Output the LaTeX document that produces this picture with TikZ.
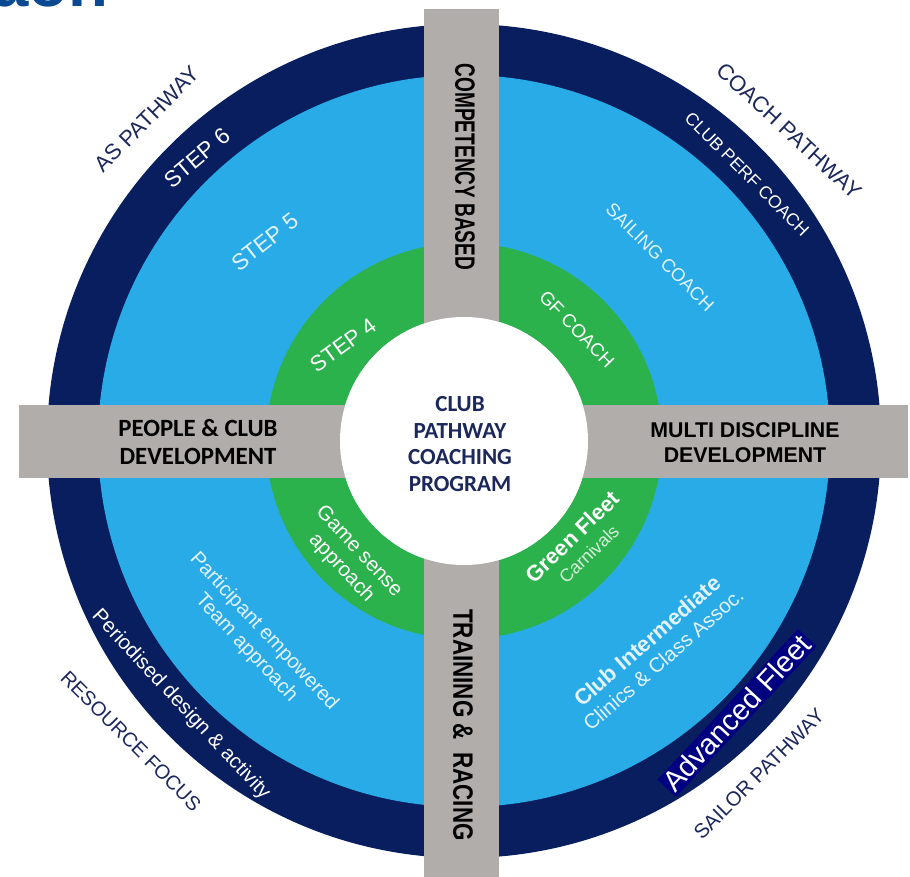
\documentclass[tikz,border=0pt]{standalone}
\usepackage{fontspec}
\setmainfont{Liberation Sans}
\newfontfamily\calibfont{Carlito}
\definecolor{navyring}{RGB}{8,30,94}
\definecolor{skyring}{RGB}{41,171,231}
\definecolor{greenring}{RGB}{44,178,76}
\definecolor{bargray}{RGB}{177,173,171}
\definecolor{labelnavy}{RGB}{28,40,92}
\definecolor{paletext}{RGB}{226,243,253}
\definecolor{palegreen}{RGB}{214,240,218}
\definecolor{advnavy}{RGB}{0,0,128}
\definecolor{titleblue}{RGB}{11,74,146}
\tikzset{
  ringtext/.style={inner sep=0pt,align=center},
  outerlbl/.style={ringtext,text=labelnavy,font=\fontsize{15.5}{18}\selectfont},
  barlbl/.style={inner sep=0pt,align=center,text=black}
}
\begin{document}
\begin{tikzpicture}[x=0.75pt,y=0.75pt]
  \useasboundingbox (-464,-436) rectangle (446,441);
  % cut-off title
  \begin{scope}
    \clip (-464,-436) rectangle (446,441);
    \node[anchor=base west,inner sep=0pt,text=titleblue,font=\bfseries\fontsize{49}{50}\selectfont] (ttl) at (-472,434) {aon};
  \end{scope}
  % rings
  \foreach \r/\c in {417/navyring,366/skyring,198/greenring,124/white}
    \fill[\c] (0,0) circle (\r);
  % cross bars
  \fill[bargray] (-40,432) rectangle (35,-440);
  \fill[bargray] (-445,36) rectangle (444,-37);
  \fill[white] (0,0) circle (124);

  \node[barlbl,rotate=-90,font=\bfseries\fontsize{21}{24}\selectfont] (comp) at (1,274) {\scalebox{0.68}[1]{COMPETENCY BASED}};
  \node[barlbl,rotate=-90,font=\bfseries\fontsize{21}{24}\selectfont] (train) at (-1,-284) {\scalebox{0.8}[1]{TRAINING \& \ RACING}};
  \node[barlbl,font=\calibfont\bfseries\fontsize{18.6}{21.5}\selectfont] (people) at (-266,-1) {PEOPLE \& CLUB\\DEVELOPMENT};
  \node[barlbl,font=\bfseries\fontsize{16}{19}\selectfont] (multi) at (281,-1.5) {MULTI DISCIPLINE\\DEVELOPMENT};
  \node[barlbl,text=labelnavy,font=\calibfont\bfseries\fontsize{17.3}{20.2}\selectfont] (hub) at (-4,-3) {CLUB\\PATHWAY\\COACHING\\PROGRAM};

  % top left
  \node[outerlbl,rotate=45,font=\fontsize{16.5}{19}\selectfont] (aspath) at (-317,322) {AS PATHWAY};
  \node[ringtext,rotate=40,text=white,font=\fontsize{17}{20}\selectfont] (step6) at (-267,283) {STEP 6};
  \node[ringtext,rotate=38,text=paletext,font=\fontsize{17}{20}\selectfont] (step5) at (-199,199) {STEP 5};
  \node[ringtext,rotate=36,text=white,font=\fontsize{16.5}{20}\selectfont] (step4) at (-121,96) {STEP 4};
  % top right
  \node[outerlbl,rotate=-43,font=\fontsize{16.5}{19}\selectfont] (coachpath) at (325,310) {COACH PATHWAY};
  \node[ringtext,rotate=-45,text=white,font=\fontsize{13.2}{16}\selectfont] (perf) at (283,267) {CLUB PERF COACH};
  \node[ringtext,rotate=-45,text=paletext,font=\fontsize{13.8}{16}\selectfont] (sailcoach) at (196,184) {SAILING COACH};
  \node[ringtext,rotate=-46,text=white,font=\fontsize{14}{16}\selectfont] (gfcoach) at (113,112) {GF COACH};
  % bottom left
  \node[ringtext,rotate=-47,text=white,font=\fontsize{15.4}{18}\selectfont] (gamesense) at (-114,-119) {Game sense\\approach};
  \node[ringtext,rotate=-47,text=paletext,font=\fontsize{15.2}{18}\selectfont] (partic) at (-209,-199) {Participant empowered\\Team approach};
  \node[ringtext,rotate=-47,text=white,font=\fontsize{15.4}{18}\selectfont] (period) at (-283,-264) {Periodised design \& activity};
  \node[outerlbl,rotate=-45,font=\fontsize{15}{18}\selectfont] (resource) at (-333,-300) {RESOURCE FOCUS};
  % bottom right
  \node[ringtext,rotate=44,text=white,font=\fontsize{16.5}{17}\selectfont] (greenfl) at (116,-104) {\textbf{Green Fleet}\\{\color{palegreen}\fontsize{13.5}{15}\selectfont Carnivals}};
  \node[ringtext,rotate=41,text=paletext,font=\fontsize{16.5}{18}\selectfont] (clubint) at (191,-209) {\textbf{Club Intermediate}\\{\fontsize{15.4}{17}\selectfont Clinics \& Class Assoc.}};
  \node[rotate=47,fill=advnavy,text=white,inner sep=1.5pt,font=\fontsize{21.8}{24}\selectfont] (advfl) at (273,-272) {Advanced Fleet};
  \node[outerlbl,rotate=45,font=\fontsize{15.2}{18}\selectfont] (sailor) at (295,-333) {SAILOR PATHWAY};
\end{tikzpicture}
\end{document}
